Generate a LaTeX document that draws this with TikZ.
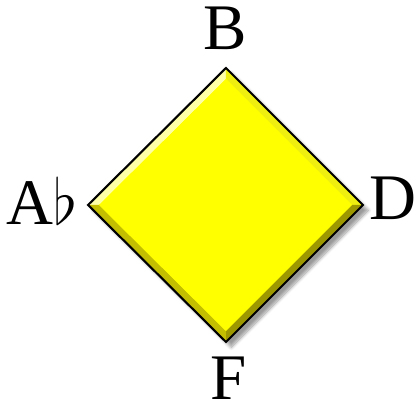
\documentclass[tikz,border=0pt]{standalone}
\usepackage{fontspec}
\setmainfont{Liberation Serif}
\usepackage{xcolor}
\usepackage{graphicx}
\definecolor{key-yellow}{HTML}{FFFF00}
\definecolor{bevel-light}{HTML}{FFFFA8}
\definecolor{bevel-mid}{HTML}{EEEE10}
\definecolor{bevel-dark}{HTML}{C4BE00}
\definecolor{bevel-deep}{HTML}{9E9800}
\usetikzlibrary{shadows.blur}

\begin{document}
\begin{tikzpicture}[x=0.02cm, y=-0.02cm,
        every node/.style={font=\fontsize{37}{40}\selectfont, inner sep=0pt},
        notelabel/.style={anchor=base}]
      \useasboundingbox (0,0) rectangle (417,408);
      % corners of the diamond
      \coordinate (top) at (226,68);
      \coordinate (right) at (363,205);
      \coordinate (bottom) at (226,342);
      \coordinate (left) at (88,205);
      \coordinate (itop) at (226,79);
      \coordinate (iright) at (352,205);
      \coordinate (ibottom) at (226,331);
      \coordinate (ileft) at (99,205);
      \fill[key-yellow, blur shadow={shadow xshift=3pt, shadow yshift=-3pt,
            shadow blur steps=6, shadow opacity=40}]
            (top) -- (right) -- (bottom) -- (left) -- cycle;
      \fill[bevel-light] (left) -- (top) -- (itop) -- (ileft) -- cycle;
      \fill[bevel-mid]   (top) -- (right) -- (iright) -- (itop) -- cycle;
      \fill[bevel-deep]  (right) -- (bottom) -- (ibottom) -- (iright) -- cycle;
      \fill[bevel-dark]  (bottom) -- (left) -- (ileft) -- (ibottom) -- cycle;
      \fill[key-yellow] (itop) -- (iright) -- (ibottom) -- (ileft) -- cycle;
      \draw[line width=1.2pt, line join=miter]
            (top) -- (right) -- (bottom) -- (left) -- cycle;
      % note names
      \node[notelabel] (B)  at (225,50)  {B};
      \node[notelabel] (D)  at (393,220) {D};
      \node[notelabel] (F)  at (229,400) {F};
      \node[notelabel] (Ab) at (42,225)  {A\scalebox{1.45}{$\flat$}};
    \end{tikzpicture}
\end{document}
